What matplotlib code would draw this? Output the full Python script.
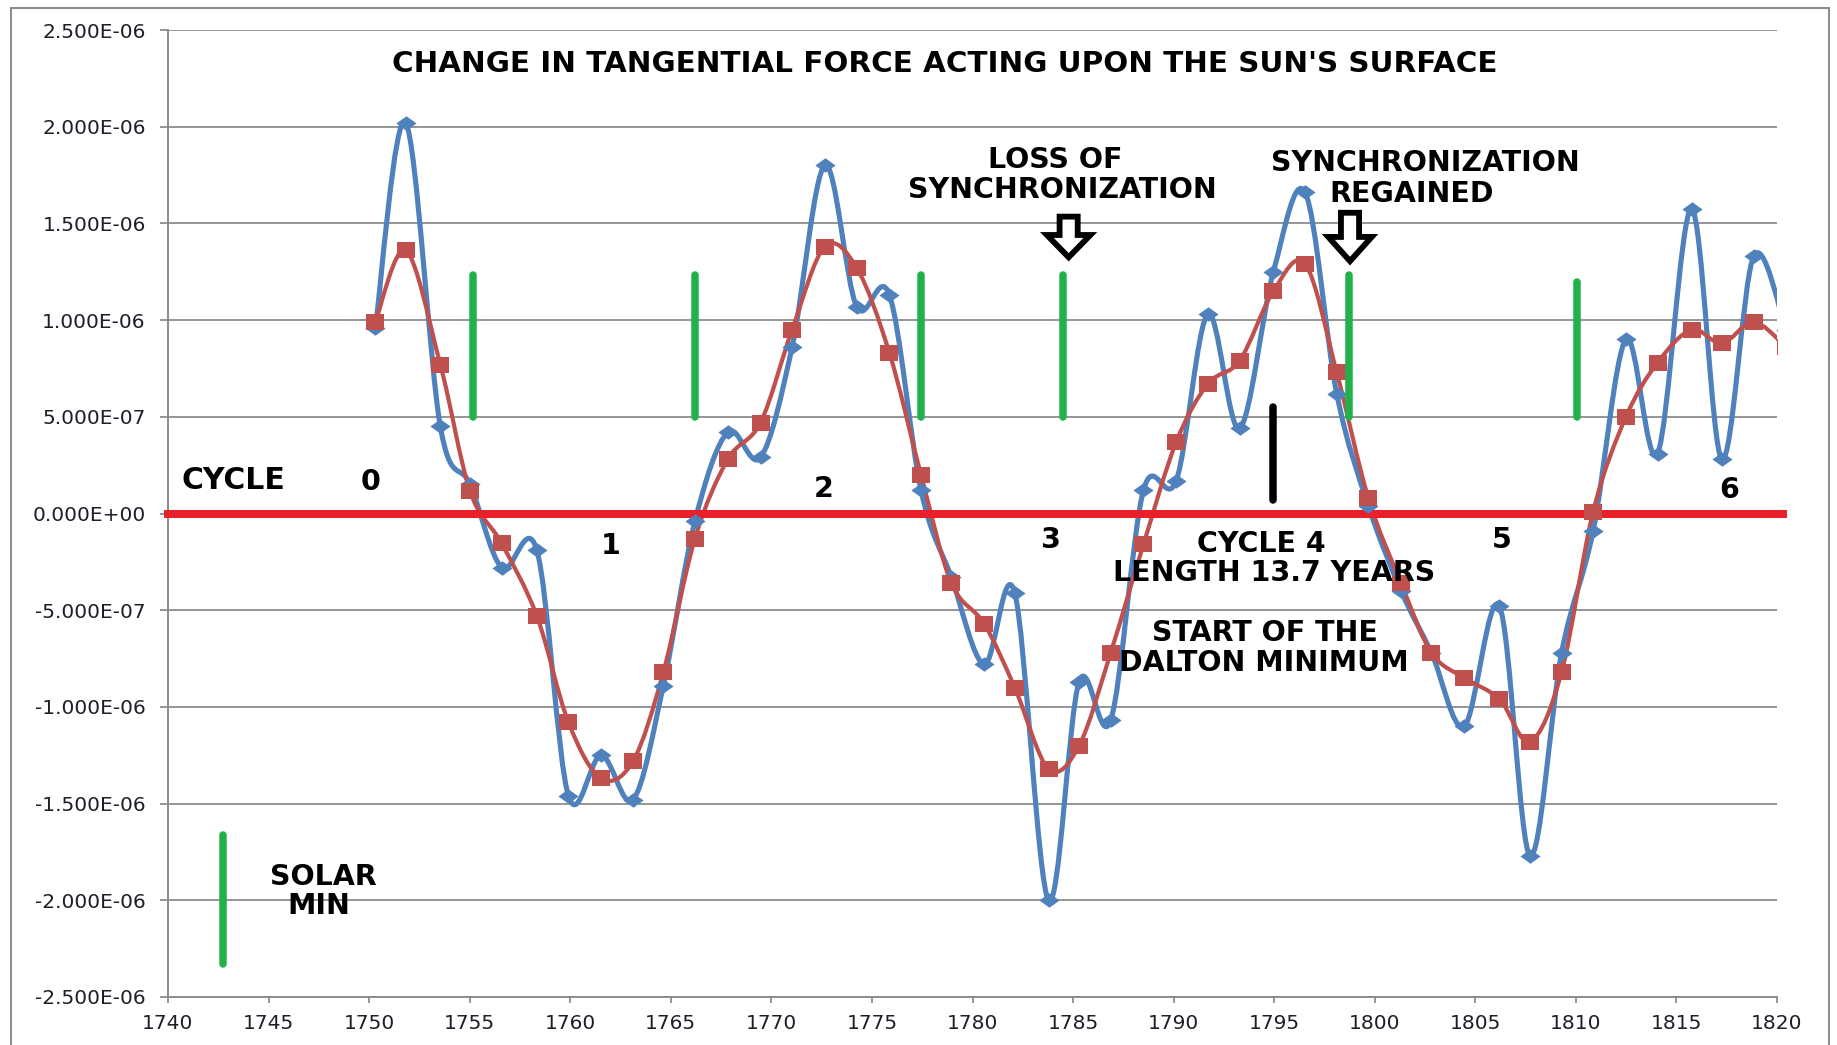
import numpy as np
import matplotlib
matplotlib.use("Agg")
import matplotlib.pyplot as plt
from matplotlib.path import Path
from matplotlib.patches import PathPatch, Polygon, Rectangle
from matplotlib.ticker import FuncFormatter

# ---------------- data (values in units of 1e-6) ----------------
years = [1750.31, 1751.82, 1753.54, 1755.02, 1756.59, 1758.34, 1759.91, 1761.54,
         1763.12, 1764.63, 1766.20, 1767.83, 1769.46, 1771.03, 1772.66, 1774.24,
         1775.87, 1777.44, 1778.95, 1780.58, 1782.10, 1783.78, 1785.30, 1786.87,
         1788.50, 1790.13, 1791.70, 1793.28, 1794.96, 1796.54, 1798.11, 1799.68,
         1801.31, 1802.82, 1804.45, 1806.20, 1807.72, 1809.29, 1810.86, 1812.49,
         1814.06, 1815.75, 1817.26, 1818.84, 1820.45]

force_blue = [0.96, 2.02, 0.45, 0.15, -0.28, -0.19, -1.46, -1.25,
              -1.48, -0.89, -0.04, 0.42, 0.29, 0.86, 1.80, 1.07,
              1.13, 0.12, -0.33, -0.78, -0.41, -2.00, -0.87, -1.07,
              0.12, 0.17, 1.03, 0.44, 1.25, 1.66, 0.62, 0.04,
              -0.40, -0.72, -1.10, -0.48, -1.77, -0.72, -0.09, 0.90,
              0.31, 1.575, 0.28, 1.33, 0.95]

force_red = [0.99, 1.36, 0.77, 0.115, -0.155, -0.53, -1.08, -1.37,
             -1.28, -0.82, -0.13, 0.28, 0.47, 0.95, 1.38, 1.27,
             0.83, 0.20, -0.36, -0.57, -0.90, -1.32, -1.20, -0.72,
             -0.16, 0.37, 0.67, 0.79, 1.15, 1.29, 0.73, 0.08,
             -0.36, -0.72, -0.85, -0.96, -1.18, -0.82, 0.01, 0.50,
             0.78, 0.95, 0.88, 0.99, 0.86]

solar_min_years = [1755.14, 1766.21, 1777.44, 1784.52, 1798.72, 1810.08]
solar_min_top = [1.235, 1.235, 1.235, 1.235, 1.235, 1.195]
solar_min_bottom = 0.50

x_ticks = list(range(1740, 1821, 5))
y_ticks = [-2.5, -2.0, -1.5, -1.0, -0.5, 0.0, 0.5, 1.0, 1.5, 2.0, 2.5]

SCALE = 1e-6

# ---------------- style ----------------
BLUE = "#4F81BD"
RED = "#C0504D"
GREEN = "#22B04B"
ZERO_RED = "#E8202A"
GRID = "#8C8C8C"

fig = plt.figure(figsize=(18.37, 10.45), dpi=100)
ax = fig.add_axes([168 / 1837, 1 - 997 / 1045, (1777 - 168) / 1837, (997 - 30) / 1045])

ax.set_xlim(1740, 1820)
ax.set_ylim(-2.5 * SCALE, 2.5 * SCALE)
ax.set_xticks(x_ticks)
ax.set_yticks([v * SCALE for v in y_ticks])
ax.yaxis.set_major_formatter(FuncFormatter(lambda v, p: f"{v:.3E}"))
ax.xaxis.set_major_formatter(FuncFormatter(lambda v, p: f"{int(round(v))}"))

for s in ("top", "right"):
    ax.spines[s].set_visible(False)
for s in ("left", "bottom"):
    ax.spines[s].set_color(GRID)
    ax.spines[s].set_linewidth(1.4)

ax.yaxis.grid(True, color=GRID, linewidth=1.3)
ax.set_axisbelow(True)
ax.tick_params(axis="y", direction="out", length=6, width=1.3, color=GRID,
               labelsize=14.5, labelcolor="#1E1E28", pad=10)
ax.tick_params(axis="x", direction="out", length=4.5, width=1.3, color=GRID,
               labelsize=14.5, labelcolor="#1E1E28", pad=8)


def smooth_path(x, y):
    pts = np.column_stack([x, y])
    n = len(pts)
    verts = [pts[0]]
    codes = [Path.MOVETO]
    for i in range(n - 1):
        p0 = pts[i - 1] if i > 0 else pts[i]
        p1 = pts[i]
        p2 = pts[i + 1]
        p3 = pts[i + 2] if i + 2 < n else pts[i + 1]
        c1 = p1 + (p2 - p0) / 6.0
        c2 = p2 - (p3 - p1) / 6.0
        verts += [c1, c2, p2]
        codes += [Path.CURVE4] * 3
    return Path(verts, codes)


xb = np.array(years)
yb = np.array(force_blue) * SCALE
yr = np.array(force_red) * SCALE

ax.add_patch(PathPatch(smooth_path(xb, yb), fill=False, edgecolor=BLUE,
                       linewidth=3.7, capstyle="round", joinstyle="round", zorder=2))
ax.add_patch(PathPatch(smooth_path(xb, yr), fill=False, edgecolor=RED,
                       linewidth=3.0, capstyle="round", joinstyle="round", zorder=2.2))

diamond = [(-1, 0), (0, 0.72), (1, 0), (0, -0.72), (-1, 0)]
rect = [(-1, -0.82), (1, -0.82), (1, 0.82), (-1, 0.82), (-1, -0.82)]
ax.plot(xb, yb, linestyle="none", marker=diamond, markersize=14.5,
        color=BLUE, markeredgewidth=0, zorder=4)
ax.plot(xb, yr, linestyle="none", marker=rect, markersize=13.5,
        color=RED, markeredgewidth=0, zorder=4.2)

# zero line
ax.plot([1739.8, 1820.5], [0, 0], color=ZERO_RED, linewidth=5.8,
        solid_capstyle="butt", clip_on=False, zorder=3)

# solar minimum markers
for xv, top in zip(solar_min_years, solar_min_top):
    ax.plot([xv, xv], [solar_min_bottom * SCALE, top * SCALE], color=GREEN,
            linewidth=5.4, solid_capstyle="round", zorder=5)
# legend bar
ax.plot([1742.74, 1742.74], [-1.66 * SCALE, -2.33 * SCALE], color=GREEN,
        linewidth=5.4, solid_capstyle="round", zorder=5)
# black marker
ax.plot([1794.95, 1794.95], [0.068 * SCALE, 0.55 * SCALE], color="black",
        linewidth=5.4, solid_capstyle="round", zorder=5)


def down_arrow(xc, top, base, tip, sw, hw):
    verts = [(xc - sw, top * SCALE), (xc + sw, top * SCALE), (xc + sw, base * SCALE),
             (xc + hw, base * SCALE), (xc, tip * SCALE), (xc - hw, base * SCALE),
             (xc - sw, base * SCALE)]
    ax.add_patch(Polygon(verts, closed=True, facecolor="white", edgecolor="black",
                         linewidth=4.2, joinstyle="miter", zorder=6))


down_arrow(1784.78, 1.535, 1.44, 1.325, 0.45, 1.08)
down_arrow(1798.77, 1.555, 1.43, 1.305, 0.45, 1.08)

# texts
tk = dict(ha="center", va="center", fontsize=20.5, fontweight="bold",
          color="black", zorder=7)
ax.text(1778.6, 2.325 * SCALE, "CHANGE IN TANGENTIAL FORCE ACTING UPON THE SUN'S SURFACE",
        **{**tk, "fontsize": 21.2})
ax.text(1784.13, 1.828 * SCALE, "LOSS OF", **tk)
ax.text(1784.48, 1.671 * SCALE, "SYNCHRONIZATION", **tk)
ax.text(1802.53, 1.81 * SCALE, "SYNCHRONIZATION", **tk)
ax.text(1801.83, 1.653 * SCALE, "REGAINED", **tk)
ax.text(1743.26, 0.169 * SCALE, "CYCLE", **{**tk, "fontsize": 21.5})
ax.text(1750.07, 0.163 * SCALE, "0", **tk)
ax.text(1762.01, -0.169 * SCALE, "1", **tk)
ax.text(1772.61, 0.127 * SCALE, "2", **tk)
ax.text(1783.84, -0.139 * SCALE, "3", **tk)
ax.text(1794.38, -0.157 * SCALE, "CYCLE 4", **tk)
ax.text(1795.02, -0.309 * SCALE, "LENGTH 13.7 YEARS", **tk)
ax.text(1806.32, -0.139 * SCALE, "5", **tk)
ax.text(1817.61, 0.121 * SCALE, "6", **tk)
ax.text(1794.56, -0.617 * SCALE, "START OF THE", **tk)
ax.text(1794.50, -0.775 * SCALE, "DALTON MINIMUM", **tk)
ax.text(1747.74, -1.877 * SCALE, "SOLAR", **tk)
ax.text(1747.51, -2.028 * SCALE, "MIN", **tk)

# outer chart-area border
fig.add_artist(Rectangle((10.6 / 1837, -0.02), (1829 - 10.6) / 1837, 1.02 - 7.6 / 1045,
                         transform=fig.transFigure, fill=False, edgecolor="#8E8E8E",
                         linewidth=1.5))

fig.savefig("out.png", dpi=100)
